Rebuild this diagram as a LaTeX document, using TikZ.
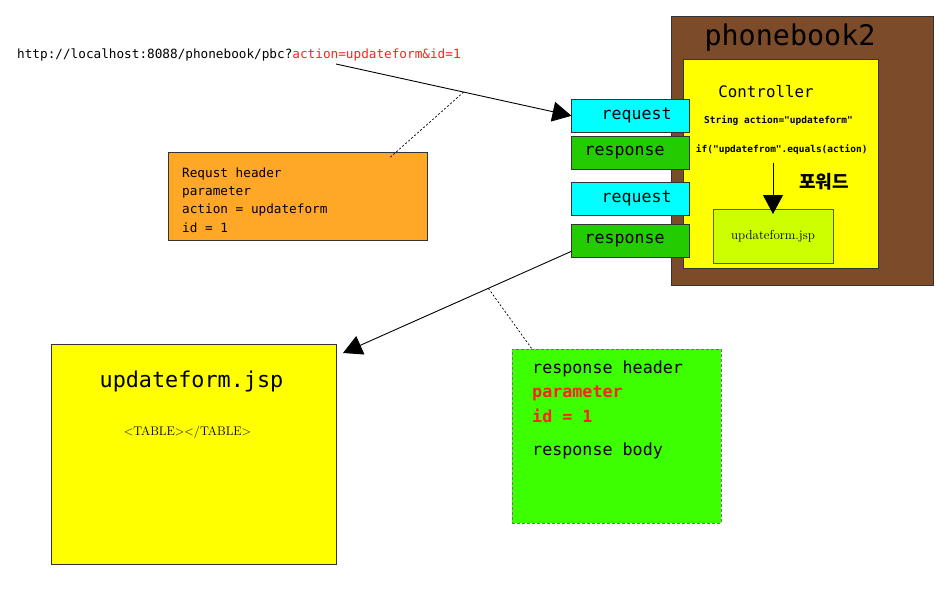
\documentclass[tikz,border=0pt]{standalone}
\usepackage{fontspec}
\newfontfamily\mono{DejaVu Sans Mono}
\newfontfamily\kr{Noto Sans CJK KR}
\usetikzlibrary{arrows.meta,calc}
\definecolor{brownbox}{HTML}{7B4B2A}
\definecolor{orangebox}{HTML}{FFA726}
\definecolor{respgreen}{HTML}{22CC00}
\definecolor{brightgreen}{HTML}{3CFF00}
\definecolor{limebox}{HTML}{CCFF00}
\definecolor{cyanbox}{HTML}{00FFFF}
\definecolor{yellowbox}{HTML}{FFFF00}
\definecolor{redtext}{HTML}{FF2020}
\begin{document}
\begin{tikzpicture}[x=1pt,y=-1pt,
  box/.style={draw=black!80, line width=0.8pt, inner sep=0pt, outer sep=0pt, anchor=north west},
  bigarrow/.style={-{Triangle[length=19pt,width=20pt]}, line width=0.9pt},
  notelink/.style={line width=0.7pt, dash pattern=on 2pt off 2pt},
  reqbox/.style={box, fill=cyanbox, minimum width=117.5pt, minimum height=33pt, font=\mono\fontsize{16.6}{18}\selectfont},
  respbox/.style={box, fill=respgreen, minimum width=117.5pt, minimum height=33pt, font=\mono\fontsize{16.6}{18}\selectfont}
]
\useasboundingbox (0,0) rectangle (948,602);

% URL
\node[anchor=base west, inner sep=0pt, font=\mono\fontsize{12.7}{15}\selectfont] (url) at (17,58.3)
  {http://localhost:8088/phonebook/pbc?\textcolor{redtext}{action=updateform\&id=1}};
\coordinate (urlpt) at (336,64);

% phonebook2 container
\node[box, fill=brownbox, minimum width=261.5pt, minimum height=268.5pt] (pb) at (671.5,16.5) {};
\node[anchor=base, inner sep=0pt, font=\mono\fontsize{28.4}{30}\selectfont] (pbtitle) at (790,46) {phonebook2};
\node[box, fill=yellowbox, minimum width=195pt, minimum height=209pt] (ctrl) at (683,59) {};
\node[anchor=base, inner sep=0pt, font=\mono\fontsize{15.8}{18}\selectfont] (ctrltitle) at (766,98) {Controller};
\node[anchor=base, inner sep=0pt, font=\mono\bfseries\fontsize{9.5}{11}\selectfont] (strline) at (778.5,123) {String action="updateform"};
\node[anchor=base, inner sep=0pt, font=\mono\bfseries\fontsize{9.5}{11}\selectfont] (ifline) at (781.7,152.7) {if("updatefrom".equals(action)};
\node[anchor=base, inner sep=0pt, font=\kr\bfseries\fontsize{18}{20}\selectfont] (fwd) at (824,188) {포워드};
\node[box, draw=black!65, fill=limebox, minimum width=120pt, minimum height=54pt, font=\fontsize{13}{15}\selectfont] (lime) at (713,209) {updateform.jsp};
\draw[bigarrow] ([yshift=-8pt]ifline.south -| lime.north) -- ([yshift=-5pt]lime.north);

% request / response boxes
\node[reqbox] (req1) at (571.5,99.3) {\hspace*{12.8pt}request};
\node[respbox] (resp1) at (571.5,136) {response\hspace*{11.2pt}};
\node[reqbox] (req2) at (571.5,182.3) {\hspace*{12.8pt}request};
\node[respbox] (resp2) at (571.5,224) {response\hspace*{11.2pt}};

% request header note
\node[box, fill=orangebox, minimum width=259pt, minimum height=88pt] (reqnote) at (168,152.5) {};
\node[anchor=north west, inner sep=0pt, align=left, font=\mono\fontsize{12.7}{18.3}\selectfont] (reqnotetext) at (182,167.3)
  {Requst header\\parameter\\action = updateform\\id = 1};

% request arrow
\draw[bigarrow] (urlpt) -- coordinate[pos=0.542] (reqmid) (req1.west);
\draw[notelink] (reqmid) -- ([yshift=-5pt]reqnote.north -| 390,0);

% updateform.jsp page
\node[box, fill=yellowbox, minimum width=285pt, minimum height=220pt] (jsp) at (51,344) {};
\node[anchor=base, inner sep=0pt, font=\mono\fontsize{21.8}{24}\selectfont] (jsptitle) at (191.5,387) {updateform.jsp};
\node[anchor=base, inner sep=0pt, font=\fontsize{12.5}{14}\selectfont] (jsptable) at (187.5,435) {<TABLE></TABLE>};
\coordinate (jsptip) at ($(jsp.north east)+(7,9)$);

% response note
\node[box, draw=black!55, dash pattern=on 3pt off 2pt, fill=brightgreen, minimum width=209pt, minimum height=174pt] (respnote) at (512,349) {};
\node[anchor=north west, inner sep=0pt, align=left, font=\mono\fontsize{16.7}{24.5}\selectfont] (respnotetext) at (532,360.3)
  {response header\\\textcolor{redtext}{\bfseries parameter}\\\textcolor{redtext}{\bfseries id = 1}\\[8.5pt]response body};

% response arrow
\coordinate (respstart) at ($(resp2.south west)+(0,-5.7)$);
\draw[bigarrow] (respstart) -- coordinate[pos=0.364] (respmid) (jsptip);
\draw[notelink] (respmid) -- (respnote.north -| 532,0);
\end{tikzpicture}
\end{document}
